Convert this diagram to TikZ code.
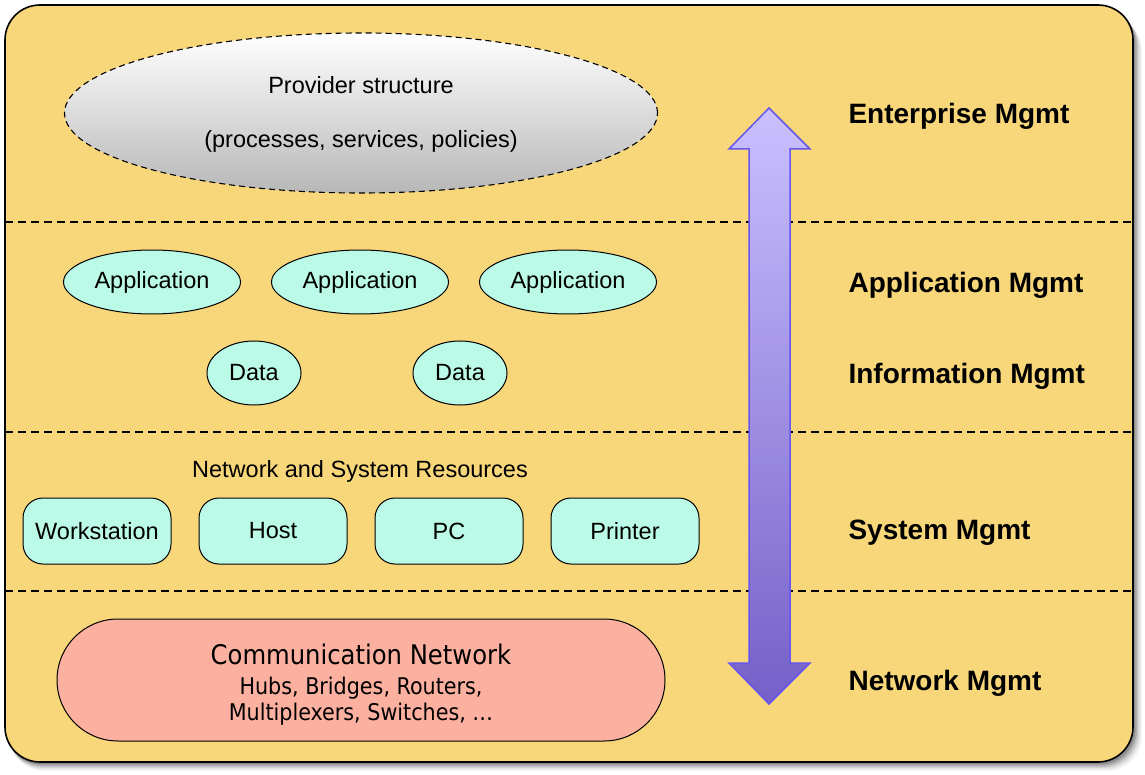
\documentclass[tikz,border=0pt]{standalone}
\usepackage{fontspec}
\setmainfont{Liberation Sans}
\newfontfamily\condfont{DejaVu Sans Condensed}
\usetikzlibrary{shapes.geometric}
\definecolor{bgyellow}{RGB}{248,215,122}
\definecolor{aqua}{RGB}{188,250,232}
\definecolor{salmon}{RGB}{252,176,160}
\definecolor{arrowline}{RGB}{102,85,238}
\definecolor{arrowtop}{RGB}{202,192,255}
\definecolor{arrowbot}{RGB}{116,96,200}
\begin{document}
\begin{tikzpicture}[x=1pt,y=-1pt,
  appl/.style={ellipse, draw, line width=1pt, fill=aqua, minimum width=177pt, minimum height=64pt, inner sep=0pt, font=\fontsize{23.5}{28}\selectfont},
  datael/.style={ellipse, draw, line width=1pt, fill=aqua, minimum width=94pt, minimum height=64pt, inner sep=0pt, font=\fontsize{23.5}{28}\selectfont},
  resbox/.style={draw, line width=1pt, fill=aqua, rounded corners=20pt, minimum width=148pt, minimum height=66pt, inner sep=0pt, font=\fontsize{23.5}{28}\selectfont},
  mgmt/.style={anchor=west, font=\fontsize{28}{32}\selectfont\bfseries},
  sep/.style={dash pattern=on 8pt off 5pt, line width=1.2pt},
  plain/.style={font=\fontsize{23.5}{28}\selectfont}
]
\useasboundingbox (0,0) rectangle (1145,775);
% shadow
\foreach \o/\op in {11/0.05,9/0.07,7/0.1,5/0.14,3/0.18}
  \fill[black, opacity=\op, rounded corners=35pt] (5+\o*0.4,5+\o) rectangle (1133+\o*0.8,762+\o*0.8);
% frame
\draw[line width=1.6pt, fill=bgyellow, rounded corners=35pt] (5,5) rectangle (1133,762);
% separators
\coordinate (l1) at (5,222); \coordinate (r1) at (1133,222);
\coordinate (l2) at (5,432); \coordinate (r2) at (1133,432);
\coordinate (l3) at (5,591); \coordinate (r3) at (1133,591);
\draw[sep] (l1) -- (r1);
\draw[sep] (l2) -- (r2);
\draw[sep] (l3) -- (r3);
% provider ellipse
\node[ellipse, draw, dash pattern=on 6pt off 4pt, line width=1.1pt, top color=white, bottom color=black!28, minimum width=593pt, minimum height=160pt] (prov) at (361,113) {};
\node[plain] (provt1) at (361,85) {Provider structure};
\node[plain] (provt2) at (361,141) {(processes, services, policies)};
% applications
\node[appl] (app1) at (152,282) {Application};
\node[appl] (app2) at (360,282) {Application};
\node[appl] (app3) at (568,282) {Application};
\node[datael] (data1) at (254,373) {Data};
\node[datael] (data2) at (460,373) {Data};
% resources
\node[plain] (nsr) at (360,471) {Network and System Resources};
\node[resbox] (ws) at (97,531) {Workstation};
\node[resbox] (host) at (273,531) {Host};
\node[resbox] (pc) at (449,531) {PC};
\node[resbox] (prn) at (625,531) {Printer};
% communication network
\node[draw, line width=1pt, fill=salmon, rounded corners=61pt, minimum width=608pt, minimum height=122pt] (comm) at (361,680) {};
\node[font=\condfont\fontsize{27}{32}\selectfont] (commt) at (361,654) {Communication Network};
\node[font=\condfont\fontsize{23}{26}\selectfont, align=center] (commd) at (361,701) {Hubs, Bridges, Routers,\\Multiplexers, Switches, …};
% double arrow
\path[draw=arrowline, line width=1.5pt, line join=miter, top color=arrowtop, bottom color=arrowbot]
  (749,149) -- (729,149) -- (769,108) -- (810,149) -- (790,149) -- (790,663) -- (810,663) -- (769,704) -- (729,663) -- (749,663) -- cycle;
% management labels
\node[mgmt] (ent) at (845,116) {Enterprise Mgmt};
\node[mgmt] (appm) at (845,285) {Application Mgmt};
\node[mgmt] (infm) at (845,376) {Information Mgmt};
\node[mgmt] (sysm) at (845,533) {System Mgmt};
\node[mgmt] (netm) at (845,683) {Network Mgmt};
\end{tikzpicture}
\end{document}
